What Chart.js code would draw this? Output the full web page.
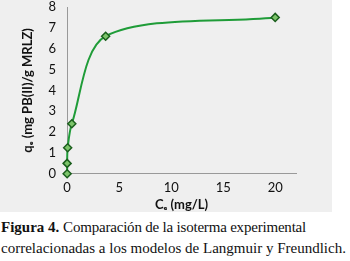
<!DOCTYPE html>
<html>
<head>
<meta charset="utf-8">
<script src="https://cdn.jsdelivr.net/npm/chart.js@4"></script>
<style>
  body { margin: 0; background: #fff; width: 350px; height: 261px; overflow: hidden; }
  #box { position: absolute; left: 0; top: 0; width: 332px; height: 212px; background: #efefef; }
  #chart { position: absolute; left: 0; top: 0; }
  #caption { position: absolute; left: 1px; top: 217px; width: 350px; font-family: "Liberation Serif", serif; font-size: 15px; line-height: 21px; color: #111; white-space: nowrap; }
  #caption .tight { letter-spacing: -0.2px; }
</style>
</head>
<body>
<div id="box"></div>
<canvas id="chart" width="332" height="215"></canvas>
<div id="caption"><b>Figura 4.</b> <span class="tight">Comparación de la isoterma experimental</span><br>correlacionadas a los modelos de Langmuir y Freundlich.</div>
<script>
// puntos experimentales (Ce, qe)
const ceValues = [0, 0, 0.05, 0.45, 3.7, 20];
const qeValues = [0, 0.5, 1.25, 2.4, 6.6, 7.5];
const xTicks = [0, 5, 10, 15, 20];
const yTicks = [0, 1, 2, 3, 4, 5, 6, 7, 8];

const points = ceValues.map((c, i) => ({ x: c, y: qeValues[i] }));
const tickFont = { family: 'Lato', size: 13 };
const titleFont = { family: 'Lato', size: 13, weight: 'bold' };

// sin margen extra por la mitad de las etiquetas
const noLabelPad = axis => {
    axis.paddingTop = 0;
    axis.paddingBottom = 0;
    axis.paddingLeft = 0;
    axis.paddingRight = 0;
};

new Chart(document.getElementById('chart').getContext('2d'), {
    type: 'scatter',
    data: {
        datasets: [{
            data: points,
            showLine: true,
            tension: 0.3,
            borderColor: '#1f9c38',
            borderWidth: 2,
            pointStyle: 'rectRot',
            pointRadius: 4,
            pointBackgroundColor: '#7cc46a',
            pointBorderColor: '#1a5e1c',
            pointBorderWidth: 1.5,
            clip: false
        }]
    },
    options: {
        responsive: false,
        animation: false,
        layout: { padding: { top: 7, right: 36, left: 20, bottom: 0 } },
        plugins: { legend: { display: false }, tooltip: { enabled: false } },
        scales: {
            x: {
                type: 'linear',
                min: 0,
                max: 22,
                afterBuildTicks: axis => { axis.ticks = xTicks.map(v => ({ value: v })); },
                afterFit: noLabelPad,
                ticks: { color: '#111', font: tickFont, padding: 2 },
                grid: { display: false, drawTicks: true, tickLength: 4, tickColor: '#999' },
                border: { color: '#999' },
                title: { display: true, text: 'Cₑ (mg/L)', color: '#111', font: titleFont, padding: { top: 0, bottom: 2 } }
            },
            y: {
                min: 0,
                max: 8,
                afterBuildTicks: axis => { axis.ticks = yTicks.map(v => ({ value: v })); },
                afterFit: noLabelPad,
                ticks: { color: '#111', font: tickFont, padding: 7 },
                grid: { display: false, drawTicks: true, tickLength: 4, tickColor: '#999' },
                border: { color: '#999' },
                title: { display: true, text: 'qₑ (mg PB(II)/g MRLZ)', color: '#111', font: titleFont, padding: { top: 0, bottom: 6 } }
            }
        }
    }
});
</script>
</body>
</html>
